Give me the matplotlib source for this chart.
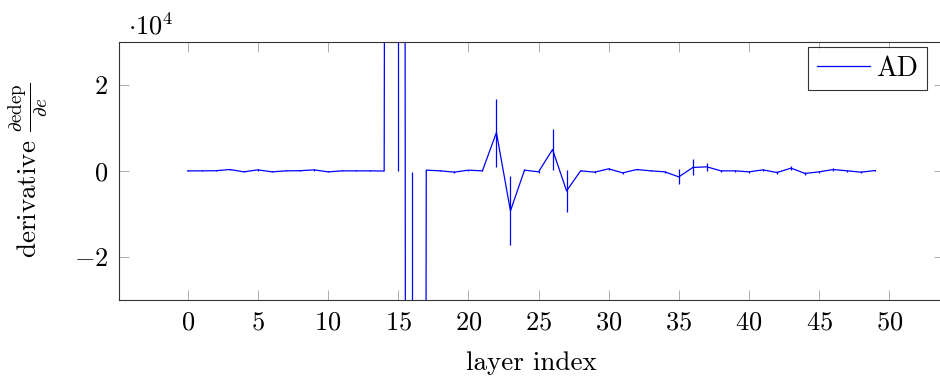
import matplotlib
matplotlib.use("Agg")
import matplotlib.pyplot as plt
from matplotlib.ticker import FuncFormatter, MultipleLocator

plt.rcParams['font.family'] = ['cmr10', 'DejaVu Serif']
plt.rcParams['mathtext.fontset'] = 'cm'
plt.rcParams['axes.unicode_minus'] = False

# layer index and AD derivative (d edep / d e) with its error
layer = list(range(50))
deriv = [0, 0, 30, 310, -230, 230, -230, 0, 30, 230,
         -230, 0, 0, 0, -50, 2.0e6, -2.0e6, 160, 0, -300,
         160, 0, 8900, -9300, 160, -230, 4950, -4650, 0, -300,
         470, -470, 310, 0, -230, -1400, 790, 930, 0, 0,
         -230, 230, -390, 630, -610, -230, 310, 0, -310, 80]
deriv_err = [100, 100, 100, 150, 150, 150, 150, 100, 100, 150,
             150, 100, 100, 100, 100, 2.0e6, 1.9998e6, 150, 150, 200,
             150, 150, 7900, 8000, 200, 200, 4850, 4900, 150, 200,
             200, 200, 200, 150, 200, 1750, 1850, 930, 200, 200,
             250, 250, 250, 500, 300, 250, 250, 200, 250, 200]

fig = plt.figure(figsize=(9.4, 3.81), dpi=100)
ax = fig.add_axes([119 / 940, 1 - 300 / 381, 825 / 940, 258.3 / 381])

ax.errorbar(layer, deriv, yerr=deriv_err, fmt='none', ecolor='blue',
            elinewidth=0.9, capsize=0)
ax.plot(layer, deriv, color='blue', lw=0.9, label='AD')

ax.set_xlim(-4.9, 53.9)
ax.set_ylim(-3e4, 3e4)
ax.xaxis.set_major_locator(MultipleLocator(5))
ax.set_yticks([-2e4, 0, 2e4])
ax.yaxis.set_major_formatter(FuncFormatter(lambda v, p: f'${v / 1e4:g}$'))
ax.xaxis.set_major_formatter(FuncFormatter(lambda v, p: f'${v:g}$'))

ax.tick_params(direction='in', length=7.2, width=0.6, color='#a0a0a0',
               top=True, right=True, labelsize=19, pad=8)
for s in ax.spines.values():
    s.set_color('#333333')
    s.set_linewidth(0.8)

ax.text(0.011, 1.026, r'$\cdot 10^4$', transform=ax.transAxes,
        fontsize=19, va='baseline', ha='left')

ax.set_xlabel('layer index', fontsize=19.5, labelpad=12)
ax.set_ylabel(r'derivative $\frac{\partial \mathrm{edep}}{\partial e}$',
              fontsize=19.5)
ax.yaxis.set_label_coords(-0.082, 0.5)

leg = ax.legend(loc='upper right', bbox_to_anchor=(0.979, 0.9795),
                borderaxespad=0, fontsize=20, frameon=True, fancybox=False,
                handlelength=1.9, handletextpad=0.25, borderpad=0.3)
leg.get_frame().set_edgecolor('black')
leg.get_frame().set_linewidth(0.8)

fig.savefig('out.png', dpi=100)
